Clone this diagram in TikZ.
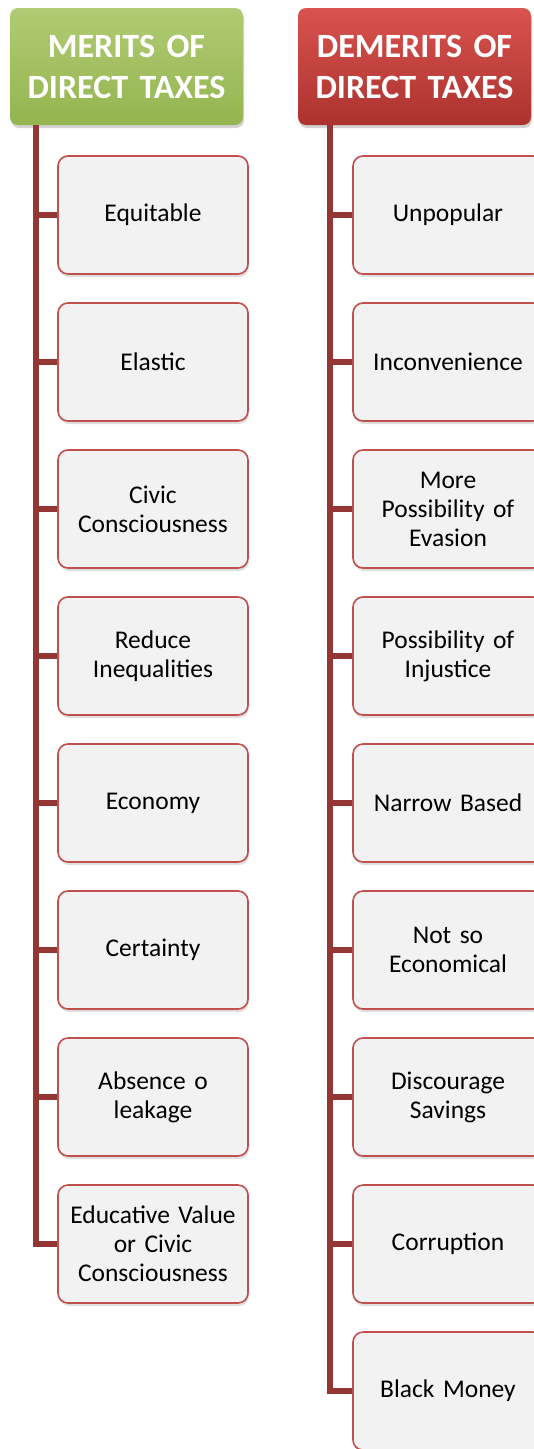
\documentclass[tikz,border=0pt]{standalone}
\usepackage{fontspec}
\setmainfont{Carlito}
\usepackage{tikz}
\usetikzlibrary{shadows}

\definecolor{boxline}{HTML}{C0504D}
\definecolor{trunkred}{HTML}{943634}
\definecolor{greentop}{HTML}{B0CC74}
\definecolor{greenbot}{HTML}{94B44F}
\definecolor{redtop}{HTML}{D9534F}
\definecolor{redbot}{HTML}{AC322E}

\tikzset{
  head/.style={rounded corners=8pt, minimum width=233pt, minimum height=117pt,
    text width=225pt, align=center, text=white,
    font=\fontsize{34}{41}\selectfont\bfseries,
    drop shadow={shadow xshift=1pt, shadow yshift=-3pt, opacity=0.35}},
  item/.style={draw=boxline, line width=1.6pt, rounded corners=10pt, fill=black!5,
    minimum width=190pt, minimum height=118pt, text width=180pt, align=center,
    font=\fontsize{25.5}{29}\selectfont,
    drop shadow={shadow xshift=1pt, shadow yshift=-3pt, opacity=0.25}},
  trunk/.style={draw=trunkred, line width=5.5pt}
}

\begin{document}
\begin{tikzpicture}[x=1pt,y=-1pt]
\clip (0,0) rectangle (534,1449);
\fill[white] (0,0) rectangle (534,1449);

% headers
\node[head, top color=greentop, bottom color=greenbot] (mh) at (126.5,66.5) {MERITS OF\\DIRECT TAXES};
\node[head, top color=redtop, bottom color=redbot] (dh) at (414.5,66.5) {DEMERITS OF\\DIRECT TAXES};

\coordinate (lt) at (36,125);
\coordinate (rt) at (330,125);

% merits
\node[item] (m1) at (153,215) {Equitable};
\node[item] (m2) at (153,362) {Elastic};
\node[item] (m3) at (153,509) {Civic\\Consciousness};
\node[item] (m4) at (153,656) {Reduce\\Inequalities};
\node[item] (m5) at (153,803) {Economy};
\node[item] (m6) at (153,950) {Certainty};
\node[item] (m7) at (153,1097) {Absence o\\leakage};
\node[item] (m8) at (153,1244) {Educative Value\\or Civic\\Consciousness};

% demerits
\node[item] (d1) at (448,215) {Unpopular};
\node[item] (d2) at (448,362) {Inconvenience};
\node[item] (d3) at (448,509) {More\\Possibility of\\Evasion};
\node[item] (d4) at (448,656) {Possibility of\\Injustice};
\node[item] (d5) at (448,803) {Narrow Based};
\node[item] (d6) at (448,950) {Not so\\Economical};
\node[item] (d7) at (448,1097) {Discourage\\Savings};
\node[item] (d8) at (448,1244) {Corruption};
\node[item] (d9) at (448,1391) {Black Money};

% connectors
\draw[trunk] (lt) |- (m8.west);
\draw[trunk] (m1.west) -- (m1.west -| lt);
\draw[trunk] (m2.west) -- (m2.west -| lt);
\draw[trunk] (m3.west) -- (m3.west -| lt);
\draw[trunk] (m4.west) -- (m4.west -| lt);
\draw[trunk] (m5.west) -- (m5.west -| lt);
\draw[trunk] (m6.west) -- (m6.west -| lt);
\draw[trunk] (m7.west) -- (m7.west -| lt);

\draw[trunk] (rt) |- (d9.west);
\draw[trunk] (d1.west) -- (d1.west -| rt);
\draw[trunk] (d2.west) -- (d2.west -| rt);
\draw[trunk] (d3.west) -- (d3.west -| rt);
\draw[trunk] (d4.west) -- (d4.west -| rt);
\draw[trunk] (d5.west) -- (d5.west -| rt);
\draw[trunk] (d6.west) -- (d6.west -| rt);
\draw[trunk] (d7.west) -- (d7.west -| rt);
\draw[trunk] (d8.west) -- (d8.west -| rt);

\end{tikzpicture}
\end{document}
